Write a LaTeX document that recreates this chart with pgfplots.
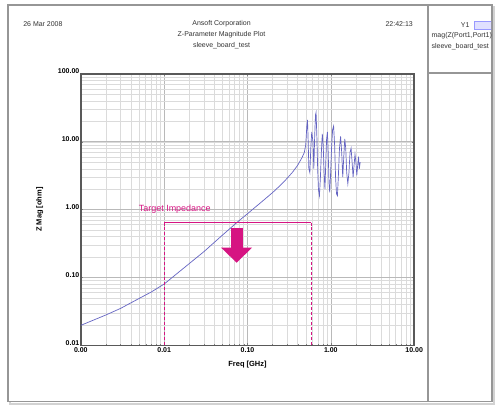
\documentclass[border=0pt]{standalone}
\usepackage{fontspec}
\setmainfont{Liberation Sans}
\usepackage{pgfplots}
\pgfplotsset{compat=1.18}
\usetikzlibrary{arrows.meta}
\definecolor{tgt}{RGB}{214,20,130}
\definecolor{curve}{RGB}{100,100,195}
\definecolor{frame}{RGB}{150,150,150}
\begin{document}
\begin{tikzpicture}
\path (0pt,0pt) rectangle (495pt,-407pt);
% outer frame with shadow
\draw[gray!35, line width=2pt] (10pt,-7pt) rectangle (495pt,-405pt);
\draw[frame, line width=1.3pt, fill=white] (8pt,-5pt) rectangle (493pt,-402pt);
\draw[frame, line width=1.3pt] (429pt,-5pt) -- (429pt,-402pt);
\draw[frame, line width=1.3pt] (429pt,-73pt) -- (493pt,-73pt);
% header
\node[font=\fontsize{7}{8.5}\selectfont, text=black!80] at (43pt,-24pt) {26 Mar 2008};
\node[font=\fontsize{7}{11}\selectfont, text=black!80, align=center] at (222pt,-35pt) {Ansoft Corporation\\Z-Parameter Magnitude Plot\\sleeve\_board\_test};
\node[font=\fontsize{7}{8.5}\selectfont, text=black!80] at (400pt,-24pt) {22:42:13};
\begin{scope}
\clip (430pt,-6pt) rectangle (492pt,-72pt);
\node[font=\fontsize{7}{8}\selectfont, text=black!80, anchor=east] at (474pt,-25pt) {Y1};
\draw[blue!40, fill=blue!12] (475pt,-21pt) rectangle (492pt,-29pt);
\node[font=\fontsize{7}{8}\selectfont, text=black!80, anchor=west] at (429pt,-36pt) {mag(Z(Port1,Port1))};
\node[font=\fontsize{7}{8}\selectfont, text=black!80, anchor=west] at (429pt,-47pt) {sleeve\_board\_test};
\end{scope}
\begin{axis}[
  at={(81pt,-346pt)}, anchor=south west,
  scale only axis, width=334pt, height=272pt,
  xmode=log, ymode=log,
  xmin=0.001, xmax=10, ymin=0.01, ymax=100,
  xtick={0.001,0.01,0.1,1,10},
  xticklabels={0.00,0.01,0.10,1.00,10.00},
  ytick={0.01,0.1,1,10,100},
  yticklabels={0.01,0.10,1.00,10.00,100.00},
  tick label style={font=\fontsize{7}{8}\selectfont\bfseries},
  xticklabel style={yshift=1.5pt},
  yticklabel style={xshift=2pt, yshift=2.5pt},
  grid=both,
  major grid style={gray!55, line width=0.5pt},
  minor grid style={gray!28, line width=0.4pt},
  axis line style={black!65, line width=1.4pt},
  major tick length=2pt, minor tick length=1.2pt,
  tick style={black!50},
  xlabel={Freq [GHz]},
  ylabel={Z Mag [ohm]},
  label style={font=\fontsize{7.5}{8.5}\selectfont\bfseries},
  xlabel style={yshift=-2pt},
  ylabel style={yshift=8pt},
  clip=false,
]
\addplot[curve, line width=0.7pt] coordinates {
(0.001,0.0197) (0.002,0.028) (0.003,0.035) (0.005,0.049) (0.007,0.061)
(0.01,0.080) (0.02,0.16) (0.03,0.24) (0.05,0.42) (0.074,0.64)
(0.1,0.87) (0.15,1.32) (0.2,1.78) (0.25,2.3) (0.3,2.9) (0.35,3.6)
(0.4,4.5) (0.45,5.8) (0.48,6.9) (0.50,9) (0.515,17) (0.525,21) (0.535,10)
(0.545,4) (0.56,3.5) (0.575,8) (0.59,14) (0.61,10) (0.625,4) (0.64,12)
(0.655,25) (0.665,27) (0.68,12) (0.695,4) (0.71,2) (0.73,1.6) (0.75,3)
(0.77,7) (0.79,13) (0.81,9) (0.83,3.5) (0.85,2) (0.87,5) (0.89,11)
(0.91,14) (0.93,7) (0.95,2.5) (0.97,1.8) (0.99,3) (1.02,8) (1.05,15)
(1.08,17) (1.11,9) (1.14,3) (1.17,1.7) (1.20,1.6) (1.23,3) (1.27,8)
(1.31,12) (1.35,7) (1.39,3) (1.43,6) (1.47,11) (1.51,8) (1.55,3.5)
(1.6,2.4) (1.65,3.5) (1.70,7) (1.75,8) (1.80,5) (1.85,3) (1.9,4.5)
(1.95,6.5) (2.0,5) (2.05,3.2) (2.1,4.5) (2.15,6) (2.2,4) (2.25,5)
};
% target impedance
\draw[tgt, line width=1.6pt] (axis cs:0.01,0.645) -- (axis cs:0.58,0.645);
\draw[tgt, line width=0.6pt, densely dashed] (axis cs:0.01,0.645) -- (axis cs:0.01,0.01);
\draw[tgt, line width=0.6pt, densely dashed] (axis cs:0.58,0.645) -- (axis cs:0.58,0.01);
\draw[tgt, line width=12pt, -{Triangle[width=30pt,length=15pt]}] (axis cs:0.074,0.54) -- (axis cs:0.074,0.165);
\node[tgt, font=\fontsize{9}{10}\selectfont] at (axis cs:0.0134,1.03) {Target Impedance};
\end{axis}
\end{tikzpicture}
\end{document}
